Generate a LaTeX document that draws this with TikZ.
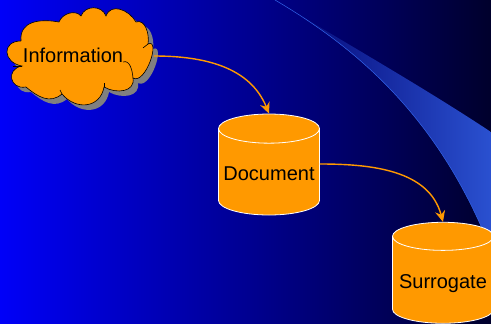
\documentclass[tikz,border=0pt]{standalone}
\usepackage{fontspec}
\setmainfont{Liberation Sans}
\usetikzlibrary{shapes.geometric, arrows.meta}
\definecolor{slideblue}{RGB}{0,0,255}
\definecolor{swooshdark}{RGB}{0,0,110}
\definecolor{swooshlight}{RGB}{48,92,222}
\definecolor{swooshline}{RGB}{50,100,235}
\definecolor{boxorange}{RGB}{255,153,0}
\definecolor{cloudshadow}{RGB}{128,128,128}
\newcommand{\cloudpath}{(21,41) to[out=95,in=170,looseness=1.2] (59,22) to[out=70,in=130] (81,16)
	to[out=70,in=110,looseness=1.2] (106,16) to[out=70,in=120,looseness=1.2] (136,22) to[out=20,in=80] (148,44) to[out=25,in=-30] (133,78)
	to[out=-80,in=-30,looseness=1.2] (104,87) to[out=-100,in=-50,looseness=1.3] (62,94) to[out=-140,in=-40,looseness=1.1] (26,87)
	to[out=-170,in=-170,looseness=2] (22,66) to[out=170,in=180,looseness=2] (21,41)}
\begin{document}
\begin{tikzpicture}[x=1pt, y=-1pt]
	\tikzstyle{barrel}=[
	cylinder,
	shape border rotate=90,
	shape aspect=0.32,
	draw=white,
	line width=0.8pt,
	fill=boxorange,
	minimum width=101pt,
	minimum height=101pt,
	inner sep=0pt,
	text height=16pt,
	text depth=0pt,
	font=\fontsize{20}{24}\selectfont
	]
	\tikzstyle{link}=[
	draw=boxorange,
	line width=1.4pt,
	-{Stealth[length=11pt,width=10pt]}
	]
	\tikzstyle{cusp}=[
	draw=black,
	line width=0.6pt
	]
	\clip (0,0) rectangle (491,324);
	\shade[left color=slideblue, right color=black] (-16.7,0) rectangle (596.7,324);
	% swoosh
	\begin{scope}
	\clip (275,0) .. controls (360,50) and (440,120) .. (491,250) -- (491,132) .. controls (420,85) and (340,40) .. (275,0);
	\shade[left color=swooshdark, right color=swooshlight] (268,0) rectangle (523,324);
	\end{scope}
	\draw[swooshline, line width=0.5pt] (275,0) .. controls (360,50) and (440,120) .. (491,250);
	% cloud
	\fill[cloudshadow, xshift=5pt, yshift=-5pt] \cloudpath;
	\filldraw[fill=boxorange, draw=black, line width=0.6pt] \cloudpath;
	\draw[cusp] (123,62) to[out=20,in=95] (133,78);
	\draw[cusp] (148,44) -- (143,48);
	\draw[cusp] (22,66) -- (13,66);
	\draw[cusp] (104,87) -- (104,83);
	\draw[cusp] (62,94) -- (60,90);
	\node (info) at (73,55) {\fontsize{20}{24}\selectfont Information};
	\coordinate (infoedge) at (154,56);
	% barrels
	\node[barrel] (doc) at (269,172) {Document};
	\node[barrel] (surr) at (443,280) {Surrogate};
	\draw[link] (infoedge) to[out=0,in=112] (doc.north);
	\draw[link] ([yshift=8pt]doc.east) to[out=0,in=105] (surr.north);
\end{tikzpicture}
\end{document}
